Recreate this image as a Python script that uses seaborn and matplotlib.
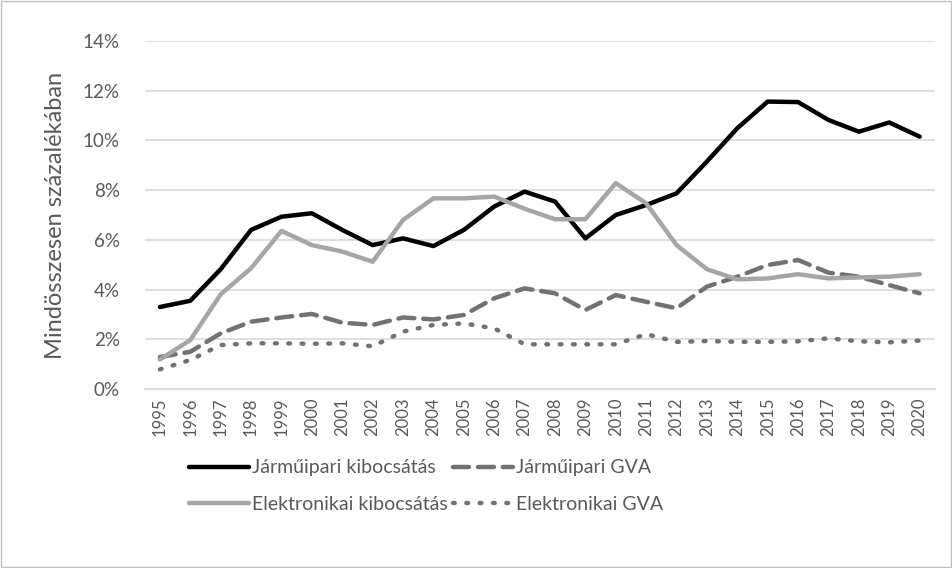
import matplotlib
matplotlib.use("Agg")
import matplotlib.pyplot as plt
from matplotlib.patches import Rectangle
from matplotlib.ticker import FuncFormatter
import pandas as pd
import seaborn as sns

years = list(range(1995, 2021))

jarmu_kibocsatas = [3.30, 3.55, 4.82, 6.40, 6.93, 7.07, 6.40, 5.79, 6.06, 5.75,
                    6.40, 7.34, 7.94, 7.54, 6.06, 7.00, 7.40, 7.87, 9.15, 10.49,
                    11.56, 11.54, 10.82, 10.35, 10.72, 10.15]
jarmu_gva = [1.29, 1.50, 2.24, 2.71, 2.88, 3.02, 2.67, 2.58, 2.88, 2.80,
             2.98, 3.65, 4.05, 3.85, 3.18, 3.78, 3.51, 3.25, 4.12, 4.52,
             4.99, 5.19, 4.68, 4.52, 4.18, 3.85]
elektro_kibocsatas = [1.19, 1.97, 3.81, 4.86, 6.36, 5.79, 5.53, 5.12, 6.80, 7.67,
                      7.67, 7.74, 7.25, 6.83, 6.83, 8.28, 7.47, 5.79, 4.82, 4.41,
                      4.45, 4.62, 4.45, 4.49, 4.52, 4.62]
elektro_gva = [0.79, 1.17, 1.77, 1.84, 1.84, 1.82, 1.84, 1.72, 2.31, 2.58,
               2.64, 2.44, 1.80, 1.80, 1.80, 1.80, 2.21, 1.90, 1.93, 1.90,
               1.90, 1.92, 2.04, 1.92, 1.88, 1.95]

series_names = ["Járműipari kibocsátás", "Járműipari GVA",
                "Elektronikai kibocsátás", "Elektronikai GVA"]

df = pd.DataFrame({
    "ev": years * 4,
    "ertek": jarmu_kibocsatas + jarmu_gva + elektro_kibocsatas + elektro_gva,
    "sorozat": [n for n in series_names for _ in years],
})

sns.set_style("white")
plt.rcParams["font.family"] = ["Lato", "DejaVu Sans"]

text_col = "#595959"
grid_col = "#d9d9d9"

# color, dash pattern (None = solid)
styles = {
    "Járműipari kibocsátás": ("black", None),
    "Járműipari GVA": ("#767171", (3.6, 2.0)),
    "Elektronikai kibocsátás": ("#a6a6a6", None),
    "Elektronikai GVA": ("#767171", (0.4, 2.6)),
}

fig = plt.figure(figsize=(9.52, 5.68), dpi=100)
ax = fig.add_axes([0.152, 0.315, 0.830, 0.613])

for name in series_names:
    sub = df[df["sorozat"] == name]
    color, dash = styles[name]
    sns.lineplot(data=sub, x="ev", y="ertek", ax=ax, color=color,
                 linewidth=3.2, label=name, legend=False)
    ln = ax.lines[-1]
    if dash is not None:
        ln.set_dashes(dash)
        ln.set_dash_capstyle("round")
    ln.set_solid_capstyle("round")
    ln.set_solid_joinstyle("round")

ax.set_xlim(1994.5, 2020.5)
ax.set_ylim(0, 14)
ax.set_yticks(range(0, 15, 2))
ax.yaxis.set_major_formatter(FuncFormatter(lambda v, p: f"{int(v)}%"))
ax.set_xticks(years)
ax.set_xticklabels([str(y) for y in years], rotation=90)
ax.grid(axis="y", color=grid_col, linewidth=1.2)
ax.set_axisbelow(True)
for s in ["top", "right", "left"]:
    ax.spines[s].set_visible(False)
ax.spines["bottom"].set_color(grid_col)
ax.spines["bottom"].set_linewidth(1.2)
ax.tick_params(axis="both", length=0, labelcolor=text_col)
ax.tick_params(axis="y", labelsize=13.5, pad=18)
ax.tick_params(axis="x", labelsize=12, pad=6)
ax.set_xlabel("")
ax.set_ylabel("Mindösszesen százalékában", fontsize=17, color=text_col, labelpad=12)

# legend rows: kibocsátás pair on top row is not how the reference reads,
# it goes row by row -> reorder for column-major filling
handles, labels = ax.get_legend_handles_labels()
order = [0, 2, 1, 3]
fig.legend([handles[i] for i in order], [labels[i] for i in order],
           loc="upper left", bbox_to_anchor=(0.18, 0.222),
           ncol=2, frameon=False, fontsize=14, labelcolor=text_col,
           handlelength=3.1, handletextpad=0.15, columnspacing=0.25,
           labelspacing=1.0)

fig.patches.append(Rectangle((0.001, 0.001), 0.998, 0.997, transform=fig.transFigure,
                             fill=False, edgecolor="#bfbfbf", linewidth=1.0))

fig.savefig("out.png", dpi=100)
